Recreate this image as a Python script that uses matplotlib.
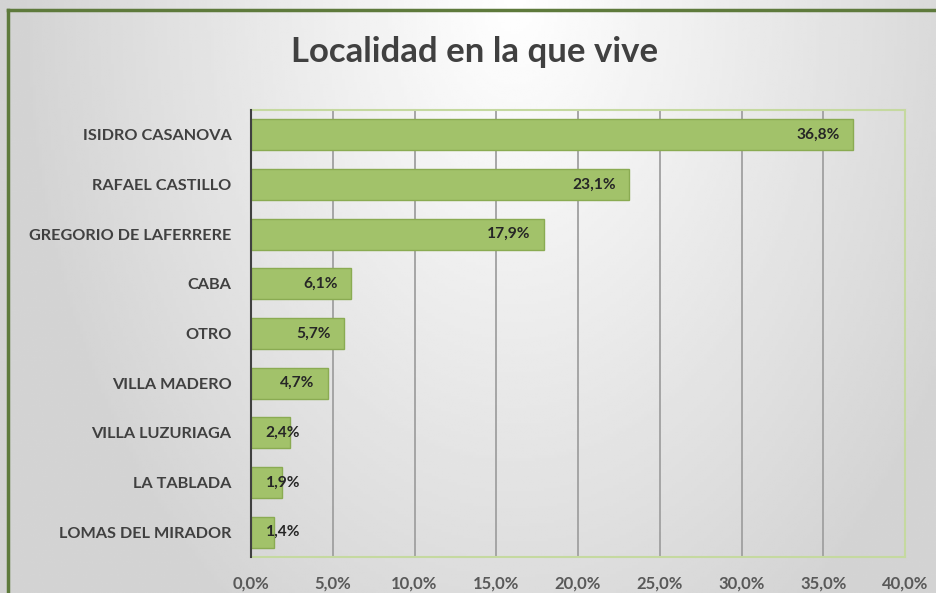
import numpy as np
import matplotlib.pyplot as plt
from matplotlib import font_manager
from matplotlib.lines import Line2D

categorias = ["ISIDRO CASANOVA", "RAFAEL CASTILLO", "GREGORIO DE LAFERRERE", "CABA",
              "OTRO", "VILLA MADERO", "VILLA LUZURIAGA", "LA TABLADA", "LOMAS DEL MIRADOR"]
valores = [36.8, 23.1, 17.9, 6.1, 5.7, 4.7, 2.4, 1.9, 1.4]
ticks = [0, 5, 10, 15, 20, 25, 30, 35, 40]

# pick a narrow-ish font if there is one
disponibles = {f.name for f in font_manager.fontManager.ttflist}
fuente = "DejaVu Sans"
for nombre in ["Liberation Sans Narrow", "Lato", "Open Sans"]:
    if nombre in disponibles:
        fuente = nombre
        break
plt.rcParams['font.family'] = [fuente, 'DejaVu Sans']

fig = plt.figure(figsize=(9.36, 5.93), dpi=100)

# background gradient (white at top centre, grey at the edges)
bg = fig.add_axes([0, 0, 1, 1], zorder=-10)
xx, yy = np.meshgrid(np.linspace(-1.1, 0.9, 300), np.linspace(0, 1, 200))
grad = 1 - 0.17 * np.clip(np.sqrt((xx * 0.95) ** 2 + (yy * 0.8) ** 2), 0, 1)
bg.imshow(grad, cmap="gray", vmin=0, vmax=1, extent=[0, 1, 0, 1], aspect="auto", origin="upper")
bg.set_axis_off()

# dark green frame, left and top only
fig.add_artist(Line2D([8 / 936, 8 / 936], [0, 1 - 10 / 593], transform=fig.transFigure,
                      color="#5e7a3c", linewidth=2.5))
fig.add_artist(Line2D([8 / 936, 1], [1 - 10 / 593, 1 - 10 / 593], transform=fig.transFigure,
                      color="#5e7a3c", linewidth=2.5))

ax = fig.add_axes([251 / 936, 1 - 557 / 593, 654 / 936, 447 / 593])
ax.patch.set_alpha(0)
y = np.arange(len(categorias))
ax.barh(y, valores, height=0.62, color="#a2c26a", edgecolor="#8aab52", linewidth=1, zorder=3)
ax.set_ylim(len(categorias) - 0.5, -0.5)
ax.set_xlim(0, 40)
ax.set_xticks(ticks)
ax.set_xticklabels([f"{t:.1f}%".replace(".", ",") for t in ticks], fontsize=12,
                   color="#595959", fontweight="bold")
ax.set_yticks(y)
ax.set_yticklabels(categorias, fontsize=11.7, color="#404040", fontweight="bold")
ax.tick_params(length=0, pad=14)
ax.tick_params(axis="x", pad=13)
ax.grid(axis="x", color="#a0a0a0", linewidth=1.3, zorder=0)
for s in ["top", "right", "bottom"]:
    ax.spines[s].set_color("#c5d9a0")
    ax.spines[s].set_linewidth(1.5)
ax.spines["left"].set_color("#404040")
ax.spines["left"].set_linewidth(1.5)
ax.spines["left"].set_zorder(4)

for yi, v in zip(y, valores):
    xr = max(v - 0.8, 3.0)
    ax.text(xr, yi, f"{v:.1f}%".replace(".", ","), ha="right", va="center",
            fontsize=11.2, fontweight="bold", color="#262626", zorder=5)

fig.text(0.507, 0.913, "Localidad en la que vive", ha="center", va="center",
         fontsize=25, fontweight="bold", color="#404040")

fig.savefig("out.png", dpi=100)
